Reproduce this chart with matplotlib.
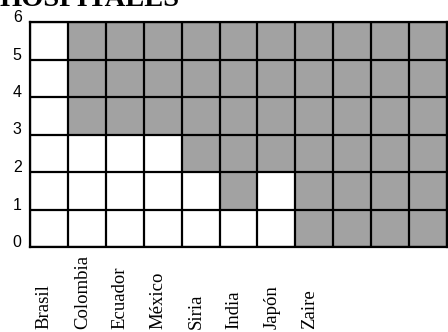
import matplotlib
matplotlib.use("Agg")
import matplotlib.pyplot as plt
import matplotlib.transforms as mtransforms

# Países (las últimas columnas no tienen etiqueta)
paises = ["Brasil", "Colombia", "Ecuador", "México", "Siria", "India", "Japón", "Zaire", "", "", ""]
# Casillas en blanco (desde abajo) y casillas sombreadas encima
blancas = [6, 3, 3, 3, 2, 1, 2, 0, 0, 0, 0]
sombreadas = [0, 3, 3, 3, 4, 5, 4, 6, 6, 6, 6]
niveles = [0, 1, 2, 3, 4, 5, 6]

fig = plt.figure(figsize=(4.48, 3.32), dpi=100)
ax = fig.add_axes([30 / 448, 85 / 332, 417 / 448, 225 / 332])

x = list(range(len(paises)))
ax.bar(x, blancas, width=1, align="edge", color="white", linewidth=0)
ax.bar(x, sombreadas, bottom=blancas, width=1, align="edge", color="#a2a2a2", linewidth=0)

ax.set_xlim(0, len(paises))
ax.set_ylim(niveles[0], niveles[-1])
ax.set_xticks(range(len(paises) + 1))
ax.set_yticks(niveles)
ax.grid(True, color="black", linewidth=1.6)
ax.set_axisbelow(False)
ax.tick_params(length=0, labelbottom=False, labelleft=False)
for s in ax.spines.values():
    s.set_linewidth(1.6)
    s.set_color("black")

# etiquetas del eje y, apoyadas sobre cada línea
ty = mtransforms.blended_transform_factory(ax.transAxes, ax.transData)
for v in niveles:
    ax.text(-0.02, v, str(v), transform=ty, ha="right", va="baseline",
            fontsize=11.5, family="Liberation Sans")

# nombres de países, verticales y alineados abajo
tx = mtransforms.blended_transform_factory(ax.transData, fig.transFigure)
for i, p in enumerate(paises):
    if p:
        ax.text(i + 0.5 - 0.12, 3 / 332, p, transform=tx, rotation=90,
                ha="center", va="bottom", fontsize=13.5, family="Liberation Serif")

# título recortado arriba
fig.text(0.0, 1 - 6 / 332, "HOSPITALES", ha="left", va="baseline",
         fontsize=20.5, fontweight="bold", family="Liberation Serif")

fig.savefig("out.png", dpi=100)
